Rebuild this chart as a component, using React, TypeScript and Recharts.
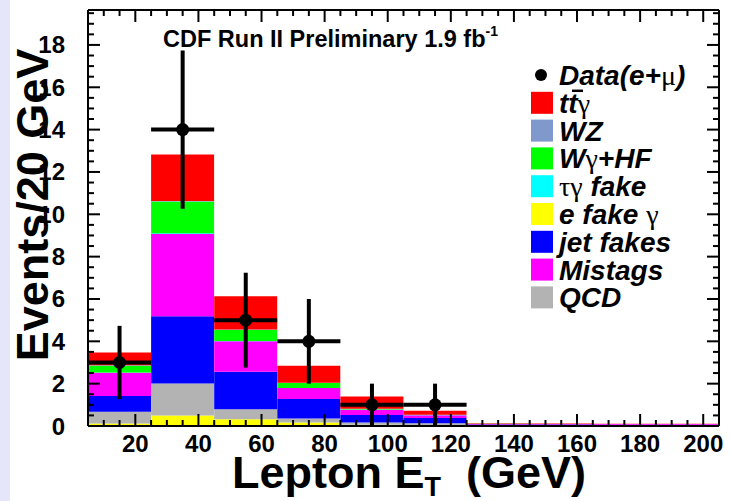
import React from "react"
import { ComposedChart, Bar, Scatter, ErrorBar, XAxis, YAxis } from "recharts"

// bin centres (20 GeV bins from 5 to 205)
const BINS = [15, 35, 55, 75, 95, 115, 135, 155, 175, 195]

// stacked backgrounds, bottom to top
const E_FAKE = [0.12, 0.5, 0.32, 0.17, 0.06, 0.05, 0.01, 0.01, 0.01, 0.01]
const QCD = [0.55, 1.51, 0.47, 0.18, 0.1, 0.08, 0.01, 0.01, 0.01, 0.01]
const JET_FAKES = [0.75, 3.17, 1.77, 0.92, 0.36, 0.25, 0.05, 0.05, 0.04, 0.04]
const MISTAGS = [1.09, 3.89, 1.44, 0.52, 0.25, 0.13, 0.03, 0.03, 0.03, 0.03]
const TAU_FAKE = [0.02, 0.03, 0.02, 0.01, 0.01, 0.01, 0, 0, 0, 0]
const W_GAMMA_HF = [0.32, 1.5, 0.52, 0.23, 0.03, 0.01, 0.01, 0, 0, 0]
const WZ = [0.02, 0.03, 0.02, 0.01, 0.01, 0, 0, 0, 0, 0]
const TT_GAMMA = [0.6, 2.2, 1.57, 0.81, 0.57, 0.19, 0.02, 0.02, 0.02, 0.02]

// data (e+mu)
const DATA_X = [15, 35, 55, 75, 95, 115]
const DATA_Y = [3, 14, 5, 4, 1, 1]
const DATA_ERR = [1.73, 3.74, 2.24, 2, 1, 1]
const BIN_HALF = 10

// labelled (major) ticks, and the minor tick grid of each axis
const X_TICKS = [20, 40, 60, 80, 100, 120, 140, 160, 180, 200]
const X_MINOR = Array.from({ length: 41 }, (_, i) => 5 + i * 5)
const Y_TICKS = [0, 2, 4, 6, 8, 10, 12, 14, 16, 18]
const Y_MINOR = Array.from({ length: 40 }, (_, i) => i * 0.5)

const X_DOMAIN = [5, 205]
const Y_DOMAIN = [0, 19.65]

const W = 731
const H = 501
const MARGIN = { top: 9, right: 11, bottom: 74, left: 87 }
// each frame axis takes 1px, so the plot box sits 1px inside the margin
const PLOT = {
  left: MARGIN.left + 1,
  right: W - MARGIN.right - 1,
  top: MARGIN.top + 1,
  bottom: H - MARGIN.bottom - 1,
}

const COLORS = {
  ttg: "#ff0000",
  wz: "#7f99cc",
  wg: "#00ff00",
  tau: "#00ffff",
  efake: "#ffff00",
  jet: "#0000ff",
  mistag: "#ff00ff",
  qcd: "#b3b3b3",
}

const rows = BINS.map((x, i) => ({
  x,
  efake: E_FAKE[i],
  qcd: QCD[i],
  jet: JET_FAKES[i],
  mistag: MISTAGS[i],
  tau: TAU_FAKE[i],
  wg: W_GAMMA_HF[i],
  wz: WZ[i],
  ttg: TT_GAMMA[i],
}))

const points = DATA_X.map((x, i) => ({ x, y: DATA_Y[i], ey: DATA_ERR[i], ex: BIN_HALF }))

const STACK = ["efake", "qcd", "jet", "mistag", "tau", "wg", "wz", "ttg"] as const

const FONT = "'Liberation Sans', Arial, Helvetica, sans-serif"
const GREEK = "'Liberation Serif', 'DejaVu Serif', serif"

const frame = { stroke: "#000", strokeWidth: 2 }

// same linear mapping as the chart axes, for the ROOT-style frame ticks and labels
const sx = (v: number) => PLOT.left + ((v - X_DOMAIN[0]) / (X_DOMAIN[1] - X_DOMAIN[0])) * (PLOT.right - PLOT.left)
const sy = (v: number) => PLOT.bottom - ((v - Y_DOMAIN[0]) / (Y_DOMAIN[1] - Y_DOMAIN[0])) * (PLOT.bottom - PLOT.top)

function FrameTicks() {
  const lines: React.ReactNode[] = []
  X_MINOR.forEach((v) => {
    const len = X_TICKS.includes(v) ? 12 : 6
    const x = sx(v)
    lines.push(<line key={`b${v}`} x1={x} x2={x} y1={PLOT.bottom} y2={PLOT.bottom - len} stroke="#000" strokeWidth={2} />)
    lines.push(<line key={`t${v}`} x1={x} x2={x} y1={PLOT.top} y2={PLOT.top + len} stroke="#000" strokeWidth={2} />)
  })
  Y_MINOR.forEach((v) => {
    const len = Y_TICKS.includes(v) ? 12 : 6
    const y = sy(v)
    lines.push(<line key={`l${v}`} x1={PLOT.left} x2={PLOT.left + len} y1={y} y2={y} stroke="#000" strokeWidth={2} />)
    lines.push(<line key={`r${v}`} x1={PLOT.right} x2={PLOT.right - len} y1={y} y2={y} stroke="#000" strokeWidth={2} />)
  })
  return <g>{lines}</g>
}

function TickLabels() {
  return (
    <g fontSize={24} fontWeight="bold" fill="#000">
      {X_TICKS.map((v) => (
        <text key={`x${v}`} x={sx(v)} y={PLOT.bottom + 26} textAnchor="middle">
          {v}
        </text>
      ))}
      {Y_TICKS.map((v) => (
        <text key={`y${v}`} x={PLOT.left - 23} y={sy(v) + 8.5} textAnchor="end">
          {v}
        </text>
      ))}
    </g>
  )
}

function Dot(props: { cx?: number; cy?: number }) {
  return <circle cx={props.cx} cy={props.cy} r={6.5} fill="#000" />
}

function Greek({ children }: { children: string }) {
  return (
    <tspan fontFamily={GREEK} fontStyle="normal" fontWeight="normal">
      {children}
    </tspan>
  )
}

const LEGEND: { key: string; label: React.ReactNode; bar?: boolean }[] = [
  { key: "ttg", label: <>tt<Greek>γ</Greek></>, bar: true },
  { key: "wz", label: "WZ" },
  { key: "wg", label: <>W<Greek>γ</Greek>+HF</> },
  { key: "tau", label: <><Greek>τγ</Greek> fake</> },
  { key: "efake", label: <>e fake <Greek>γ</Greek></> },
  { key: "jet", label: "jet fakes" },
  { key: "mistag", label: "Mistags" },
  { key: "qcd", label: "QCD" },
]

export default function App() {
  const legendTop = 75
  const legendStep = 27.8

  return (
    <div
      style={{
        position: "absolute",
        left: 0,
        top: 0,
        width: W,
        height: H,
        background: "#e6e6fa",
        overflow: "hidden",
        fontFamily: FONT,
      }}
    >
      <div style={{ position: "absolute", left: 10, top: 0, right: 0, bottom: 0, background: "#fff" }} />
      <div style={{ position: "absolute", left: 0, top: 0 }}>
        <ComposedChart width={W} height={H} data={rows} margin={MARGIN} barCategoryGap={0} barGap={0}>
          <XAxis dataKey="x" type="number" domain={X_DOMAIN} allowDataOverflow ticks={X_TICKS} interval={0}
            height={1} tick={false} tickLine={false} axisLine={frame} />
          <YAxis type="number" domain={Y_DOMAIN} allowDataOverflow ticks={Y_TICKS} interval={0}
            width={1} tick={false} tickLine={false} axisLine={frame} />
          <XAxis xAxisId="xt" orientation="top" type="number" domain={X_DOMAIN} allowDataOverflow ticks={X_TICKS}
            interval={0} height={1} tick={false} tickLine={false} axisLine={frame} />
          <YAxis yAxisId="yr" orientation="right" type="number" domain={Y_DOMAIN} allowDataOverflow ticks={Y_TICKS}
            interval={0} width={1} tick={false} tickLine={false} axisLine={frame} />
          {/* hidden axis for the data points */}
          <XAxis xAxisId="xs" dataKey="x" type="number" domain={X_DOMAIN} allowDataOverflow hide />

          {STACK.map((k) => (
            <Bar key={k} dataKey={k} stackId="mc" fill={COLORS[k]} isAnimationActive={false} />
          ))}

          <Scatter data={points} xAxisId="xs" dataKey="y" shape={<Dot />} isAnimationActive={false}>
            <ErrorBar dataKey="ey" direction="y" width={0} stroke="#000" strokeWidth={4} isAnimationActive={false} />
            <ErrorBar dataKey="ex" direction="x" width={0} stroke="#000" strokeWidth={4} isAnimationActive={false} />
          </Scatter>
        </ComposedChart>
      </div>

      <svg width={W} height={H} style={{ position: "absolute", left: 0, top: 0, pointerEvents: "none" }} fontFamily={FONT}>
        <FrameTicks />
        <TickLabels />

        <text x={163} y={47} fontSize={23.5} fontWeight="bold" fill="#000">
          CDF Run II Preliminary 1.9 fb<tspan dy={-11} fontSize={14}>-1</tspan>
        </text>

        <text transform="translate(48,205) rotate(-90)" textAnchor="middle" fontSize={45} fontWeight="bold" fill="#000">
          Events/20 GeV
        </text>

        <text x={232} y={488} fontSize={45} fontWeight="bold" fill="#000">
          Lepton E<tspan fontSize={27} dy={8}>T</tspan>
          <tspan dy={-8}>{"\u00a0\u00a0(GeV)"}</tspan>
        </text>

        {/* legend */}
        <g fontSize={28} fontWeight="bold" fontStyle="italic" fill="#000">
          <circle cx={541} cy={legendTop} r={6} fill="#000" />
          <text x={559} y={legendTop + 10}>
            Data(e+<Greek>μ</Greek>)
          </text>
          {LEGEND.map((e, i) => {
            const cy = legendTop + (i + 1) * legendStep
            return (
              <g key={e.key}>
                <rect x={531} y={cy - 11} width={22} height={22} fill={COLORS[e.key as keyof typeof COLORS]} />
                <text x={559} y={cy + 10}>{e.label}</text>
                {e.bar && <line x1={572} x2={583} y1={cy - 12} y2={cy - 12} stroke="#000" strokeWidth={2.5} />}
              </g>
            )
          })}
        </g>
      </svg>
    </div>
  )
}
